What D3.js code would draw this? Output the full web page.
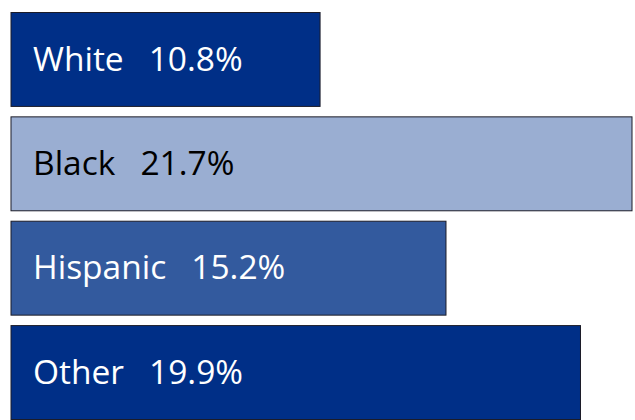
<!DOCTYPE html>
<html>
<head>
<meta charset="utf-8">
<script src="https://cdn.jsdelivr.net/npm/d3@7"></script>
<style>
  body { margin: 0; background: #fff; }
</style>
</head>
<body>
<div id="chart"></div>
<script>
// Chart data
const groups = ["White", "Black", "Hispanic", "Other"];
const rates = [10.8, 21.7, 15.2, 19.9];
const barColors = ["#002f87", "#9aaed2", "#335a9e", "#002f87"];
const textColors = ["#ffffff", "#000000", "#ffffff", "#ffffff"];

const width = 635, height = 420;

const svg = d3.select("#chart")
    .append("svg")
    .attr("width", width)
    .attr("height", height);

// x scale: value -> bar end
const xScale = d3.scaleLinear()
    .domain([0, 21.7])
    .range([11, 632]);

// y scale: one band per group
const yScale = d3.scaleBand()
    .domain(groups)
    .range([12, 419])
    .paddingInner(0.1)
    .paddingOuter(0);

const data = groups.map((g, i) => ({group: g, rate: rates[i], fill: barColors[i], text: textColors[i]}));

// Bars
svg.selectAll("rect")
    .data(data)
    .join("rect")
    .attr("x", xScale(0))
    .attr("y", d => yScale(d.group) + 0.5)
    .attr("width", d => xScale(d.rate) - xScale(0))
    .attr("height", yScale.bandwidth())
    .attr("fill", d => d.fill)
    .attr("stroke", "#1c1c28")
    .attr("stroke-width", 1);

// Labels inside bars
const labels = svg.selectAll("text.label")
    .data(data)
    .join("text")
    .attr("class", "label")
    .attr("x", 33)
    .attr("y", d => yScale(d.group) + yScale.bandwidth() / 2)
    .attr("dy", "0.35em")
    .attr("font-family", "'Open Sans', sans-serif")
    .attr("font-size", 33.5)
    .attr("fill", d => d.text);

labels.append("tspan").text(d => d.group);
labels.append("tspan").attr("dx", 25).text(d => d3.format(".1f")(d.rate) + "%");
</script>
</body>
</html>
